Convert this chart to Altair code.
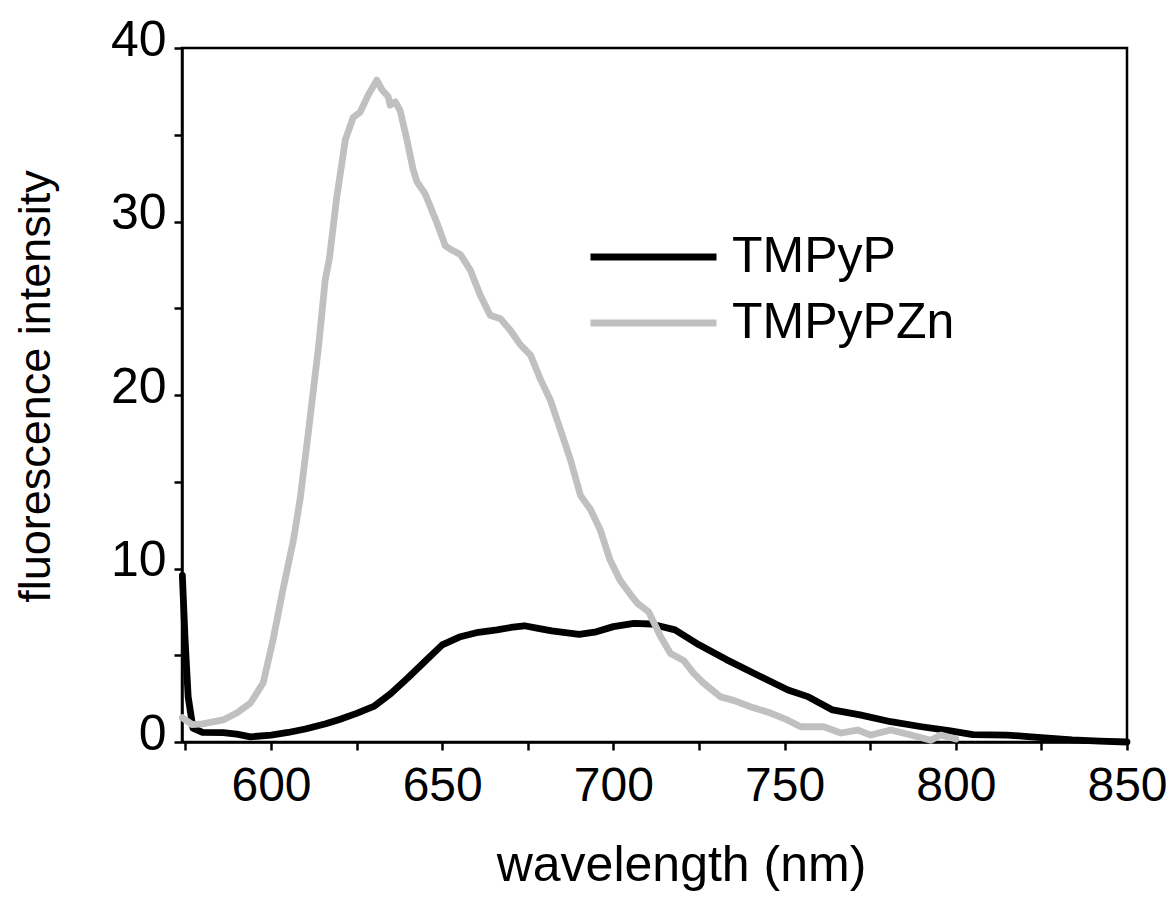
import altair as alt
import pandas as pd

# TMPyP (black)
wl_tmpyp = [574.1, 574.9, 575.8, 577.2, 580, 586, 590, 594, 600, 605, 610, 616, 620, 625, 630, 635,
            640, 645, 650, 655, 660, 666, 670, 674, 678, 682, 686, 690, 695, 700, 706, 711, 718, 725,
            733, 741, 751, 757, 764, 772, 781, 790, 798, 805, 815, 822, 834, 842, 850]
i_tmpyp = [9.6, 5.9, 2.6, 0.8, 0.55, 0.54, 0.45, 0.3, 0.4, 0.55, 0.75, 1.05, 1.3, 1.65, 2.05, 2.8,
           3.7, 4.65, 5.6, 6.05, 6.3, 6.46, 6.6, 6.7, 6.55, 6.4, 6.3, 6.2, 6.35, 6.65, 6.84, 6.8, 6.46, 5.6,
           4.75, 3.96, 3.0, 2.6, 1.85, 1.56, 1.17, 0.88, 0.65, 0.42, 0.4, 0.3, 0.12, 0.05, 0.0]

# TMPyPZn (grey)
wl_zn = [574.1, 577, 580, 586, 590, 594, 597.7, 600.6, 603.5, 606.5, 608.5, 611, 614, 615.8, 617, 619.2,
         621.7, 624, 626, 628.4, 630.9, 632.4, 634.2, 634.8, 636.3, 637.7, 639.7, 641.5, 642.6, 645, 648.5,
         650.9, 652.4, 655.3, 658.2, 661, 664, 667, 670, 672.8, 675.8, 678.7, 681.6, 684.5, 687.4, 690.4,
         693.3, 696.2, 699, 702, 705, 707, 710.3, 713.8, 716.7, 720.5, 723.4, 726.3, 731.3, 735.1, 740,
         745.9, 750.8, 754.7, 761.4, 766.4, 771.3, 775.2, 781, 786.9, 792.7, 795.6, 800]
i_zn = [1.4, 1.0, 1.05, 1.27, 1.67, 2.25, 3.4, 5.9, 8.8, 11.6, 14, 18, 23, 26.6, 27.8, 31.4,
        34.7, 36.0, 36.3, 37.3, 38.15, 37.6, 37.2, 36.7, 36.9, 36.4, 34.7, 33.0, 32.3, 31.6, 29.9,
        28.6, 28.4, 28.1, 27.2, 25.8, 24.6, 24.4, 23.7, 22.9, 22.3, 20.9, 19.7, 18, 16.3, 14.2,
        13.4, 12.2, 10.5, 9.3, 8.5, 8.0, 7.5, 6.07, 5.1, 4.7, 3.97, 3.4, 2.6, 2.4, 2.03,
        1.67, 1.27, 0.88, 0.88, 0.52, 0.69, 0.4, 0.69, 0.4, 0.1, 0.4, 0.17]

series_names = ["TMPyP", "TMPyPZn"]
series_colors = ["#000000", "#c0c0c0"]
x_ticks = [575, 600, 625, 650, 675, 700, 725, 750, 775, 800, 825, 850]
y_ticks = [0, 5, 10, 15, 20, 25, 30, 35, 40]

df = pd.concat([
    pd.DataFrame({"wl": wl_tmpyp, "I": i_tmpyp, "s": series_names[0], "o": 0}),
    pd.DataFrame({"wl": wl_zn, "I": i_zn, "s": series_names[1], "o": 1}),
])

FONT = "Liberation Sans, Arial, sans-serif"

chart = alt.Chart(df).mark_line(strokeWidth=6.8, strokeCap="round", strokeJoin="round").encode(
    x=alt.X("wl:Q", scale=alt.Scale(domain=[574, 850], nice=False, zero=False),
            axis=alt.Axis(title="wavelength (nm)", values=x_ticks, format="d",
                          labelExpr="datum.value % 50 == 0 ? datum.label : ''",
                          labelOverlap=False, labelFlush=False, labelPadding=12, labelFontSize=48,
                          titleX=499, titleY=138, titleBaseline="alphabetic", titleAlign="center",
                          titleFont=FONT, titleFontSize=50,
                          titleFontWeight="normal", titleColor="black")),
    y=alt.Y("I:Q", scale=alt.Scale(domain=[0, 40], nice=False),
            axis=alt.Axis(title="fluorescence intensity", values=y_ticks, format="d",
                          labelExpr="datum.value % 10 == 0 ? datum.label : ''",
                          labelOverlap=False, labelFlush=False, labelPadding=8, labelOffset=-8,
                          labelFontSize=50,
                          titleX=-133, titleY=338, titleBaseline="alphabetic", titleAlign="center",
                          titleAngle=270,
                          titleFont=FONT, titleFontSize=45,
                          titleFontWeight="normal", titleColor="black")),
    color=alt.Color("s:N", scale=alt.Scale(domain=series_names, range=series_colors),
                    legend=alt.Legend(title=None, orient="none", legendX=405, legendY=182,
                                      symbolType="stroke", symbolSize=15876, symbolStrokeWidth=7,
                                      labelFont=FONT, labelFontSize=50, labelColor="black",
                                      labelLimit=0, clipHeight=54,
                                      labelOffset=12, rowPadding=12, padding=0)),
    order=alt.Order("o:Q"),
    detail="s:N",
).properties(
    width=945, height=694,
    autosize=alt.AutoSizeParams(type="none"),
    padding={"left": 174, "top": 40, "right": 40, "bottom": 150},
    background="white",
).configure_view(
    stroke="black", strokeWidth=2.5
).configure_axis(
    grid=False, domainColor="black", domainWidth=2.5, tickColor="black", tickWidth=2.5,
    tickSize=8, labelFont=FONT, labelColor="black"
)

chart.save("out.html", embed_options={"renderer": "svg", "actions": False})
